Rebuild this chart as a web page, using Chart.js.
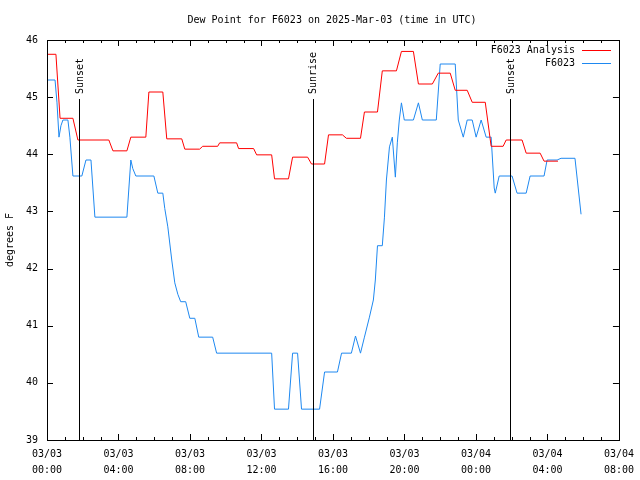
<!DOCTYPE html>
<html>
<head>
<meta charset="utf-8">
<script src="https://cdn.jsdelivr.net/npm/chart.js@4.4.1/dist/chart.umd.min.js"></script>
<style>
  body { margin: 0; background: #fff; }
  canvas { display: block; }
</style>
</head>
<body>
<canvas id="myChart" width="640" height="480"></canvas>
<script>
// hours since 03/03 00:00 UTC
const analysisTimes = [0, 0.50, 0.73, 1.45, 1.73, 3.46, 3.69, 4.47, 4.69, 5.53, 5.70, 6.48, 6.70, 7.54,
  7.71, 8.54, 8.71, 9.55, 9.66, 10.61, 10.72, 11.56, 11.73, 12.57, 12.73, 13.51, 13.74, 14.58,
  14.80, 15.53, 15.75, 16.53, 16.75, 17.54, 17.76, 18.49, 18.76, 19.55, 19.83, 20.50, 20.78,
  21.56, 21.89, 22.56, 22.84, 23.51, 23.79, 24.52, 24.85, 25.52, 25.69, 26.58, 26.81, 27.59,
  27.81, 28.59];
const analysisValues = [45.75, 45.75, 44.63, 44.63, 44.25, 44.25, 44.06, 44.06, 44.30, 44.30, 45.09,
  45.09, 44.27, 44.27, 44.09, 44.09, 44.14, 44.14, 44.20, 44.20, 44.10, 44.10, 43.99, 43.99,
  43.57, 43.57, 43.95, 43.95, 43.83, 43.83, 44.34, 44.34, 44.28, 44.28, 44.74, 44.74, 45.46,
  45.46, 45.80, 45.80, 45.23, 45.23, 45.42, 45.42, 45.12, 45.12, 44.91, 44.91, 44.14, 44.14,
  44.25, 44.25, 44.02, 44.02, 43.88, 43.88];

const stationTimes = [0, 0.45, 0.56, 0.67, 0.78, 0.89, 1.17, 1.28, 1.45, 1.95, 2.18, 2.46, 2.68, 4.47,
  4.69, 4.80, 4.97, 5.98, 6.20, 6.48, 6.59, 6.76, 6.98, 7.15, 7.32, 7.48, 7.76, 7.99, 8.27,
  8.49, 9.27, 9.49, 12.57, 12.73, 13.51, 13.74, 14.02, 14.24, 15.25, 15.53, 16.25, 16.48,
  17.03, 17.26, 17.54, 17.76, 18.04, 18.26, 18.37, 18.49, 18.76, 18.88, 18.99, 19.16, 19.32,
  19.49, 19.60, 19.71, 19.83, 19.99, 20.50, 20.78, 21.00, 21.78, 22.00, 22.84, 23.01, 23.29,
  23.51, 23.79, 24.01, 24.29, 24.57, 24.85, 25.02, 25.08, 25.30, 26.02, 26.30, 26.81, 27.03,
  27.81, 27.98, 28.54, 28.76, 29.54, 29.88];
const stationValues = [45.30, 45.30, 44.90, 44.30, 44.50, 44.60, 44.60, 44.30, 43.62, 43.62, 43.90,
  43.90, 42.90, 42.90, 43.90, 43.75, 43.62, 43.62, 43.32, 43.32, 43.05, 42.73, 42.15, 41.75,
  41.55, 41.42, 41.42, 41.13, 41.13, 40.80, 40.80, 40.52, 40.52, 39.54, 39.54, 40.52, 40.52,
  39.54, 39.54, 40.19, 40.19, 40.52, 40.52, 40.82, 40.52, 40.80, 41.15, 41.45, 41.80, 42.40,
  42.40, 42.90, 43.55, 44.13, 44.30, 43.60, 44.20, 44.60, 44.90, 44.60, 44.60, 44.90, 44.60,
  44.60, 45.58, 45.58, 44.60, 44.30, 44.60, 44.60, 44.30, 44.60, 44.30, 44.30, 43.41, 43.32,
  43.62, 43.62, 43.32, 43.32, 43.62, 43.62, 43.90, 43.90, 43.93, 43.93, 42.95];

const seriesNames = ["F6023 Analysis", "F6023"];
const seriesColors = ["#ff0000", "#1e88f0"];

const xTickLabels = [["03/03", "00:00"], ["03/03", "04:00"], ["03/03", "08:00"], ["03/03", "12:00"],
  ["03/03", "16:00"], ["03/03", "20:00"], ["03/04", "00:00"], ["03/04", "04:00"], ["03/04", "08:00"]];

const eventTimes = [1.80, 14.87, 25.92];
const eventLabels = ["Sunset", "Sunrise", "Sunset"];

const FONT = "DejaVu Sans Mono";

const gnuplotFrame = {
  id: "gnuplotFrame",
  afterDatasetsDraw(chart) {
    const { ctx, chartArea: a, scales } = chart;
    const xs = scales.x, ys = scales.y;
    ctx.save();
    ctx.strokeStyle = "#000";
    ctx.lineWidth = 1;
    ctx.beginPath();
    // x ticks, every hour, inward top and bottom
    for (let h = 0; h <= 32; h++) {
      const px = Math.round(xs.getPixelForValue(h)) + 0.5;
      const len = h % 4 === 0 ? 6 : 3;
      ctx.moveTo(px, a.bottom); ctx.lineTo(px, a.bottom - len);
      ctx.moveTo(px, a.top); ctx.lineTo(px, a.top + len);
    }
    for (let v = 39; v <= 46; v++) {
      const py = Math.round(ys.getPixelForValue(v)) + 0.5;
      ctx.moveTo(a.left, py); ctx.lineTo(a.left + 6, py);
      ctx.moveTo(a.right, py); ctx.lineTo(a.right - 6, py);
    }
    // sun events
    eventTimes.forEach((t) => {
      const px = Math.round(xs.getPixelForValue(t)) + 0.5;
      ctx.moveTo(px, a.bottom); ctx.lineTo(px, 99);
    });
    ctx.stroke();
    ctx.strokeRect(Math.round(a.left) + 0.5, Math.round(a.top) + 0.5,
      Math.round(a.right - a.left), Math.round(a.bottom - a.top));

    ctx.fillStyle = "#000";
    ctx.font = "10px '" + FONT + "'";
    eventTimes.forEach((t, i) => {
      const px = xs.getPixelForValue(t);
      ctx.save();
      ctx.translate(px + 1, 94);
      ctx.rotate(-Math.PI / 2);
      ctx.textAlign = "left";
      ctx.textBaseline = "middle";
      ctx.fillText(eventLabels[i], 0, 0);
      ctx.restore();
    });

    // title
    ctx.textAlign = "center";
    ctx.textBaseline = "middle";
    ctx.fillText("Dew Point for F6023 on 2025-Mar-03 (time in UTC)", 332, 20);

    // legend
    ctx.textAlign = "right";
    seriesNames.forEach((name, i) => {
      const y = 50 + i * 13;
      ctx.fillStyle = "#000";
      ctx.fillText(name, 575, y);
      ctx.strokeStyle = seriesColors[i];
      ctx.beginPath();
      ctx.moveTo(582, y + 0.5); ctx.lineTo(611, y + 0.5);
      ctx.stroke();
    });
    ctx.restore();
  }
};

new Chart("myChart", {
  type: "line",
  data: {
    datasets: [
      {
        label: seriesNames[0],
        data: analysisTimes.map((t, i) => ({ x: t, y: analysisValues[i] })),
        borderColor: seriesColors[0],
        borderWidth: 1,
        pointRadius: 0,
        tension: 0,
        fill: false,
      },
      {
        label: seriesNames[1],
        data: stationTimes.map((t, i) => ({ x: t, y: stationValues[i] })),
        borderColor: seriesColors[1],
        borderWidth: 1,
        pointRadius: 0,
        tension: 0,
        fill: false,
      },
    ],
  },
  options: {
    responsive: false,
    animation: false,
    devicePixelRatio: 1,
    layout: { padding: { top: 40, right: 20, left: 0, bottom: 0 } },
    plugins: { legend: { display: false }, title: { display: false }, tooltip: { enabled: false } },
    scales: {
      x: {
        type: "linear",
        min: 0,
        max: 32,
        afterBuildTicks: (scale) => {
          scale.ticks = xTickLabels.map((_, i) => ({ value: i * 4 }));
        },
        afterFit: (scale) => { scale.height = 40; },
        grid: { display: false, drawTicks: false },
        border: { display: false },
        ticks: {
          autoSkip: false,
          maxRotation: 0,
          padding: 6,
          color: "#000",
          font: { family: FONT, size: 10, lineHeight: 1.6 },
          callback: (value) => xTickLabels[Math.round(value / 4)],
        },
      },
      y: {
        min: 39,
        max: 46,
        afterFit: (scale) => { scale.width = 47; },
        grid: { display: false, drawTicks: false },
        border: { display: false },
        title: { display: true, text: "degrees F", color: "#000", font: { family: FONT, size: 10 } },
        ticks: {
          stepSize: 1,
          padding: 9,
          color: "#000",
          font: { family: FONT, size: 10 },
        },
      },
    },
  },
  plugins: [gnuplotFrame],
});
</script>
</body>
</html>
